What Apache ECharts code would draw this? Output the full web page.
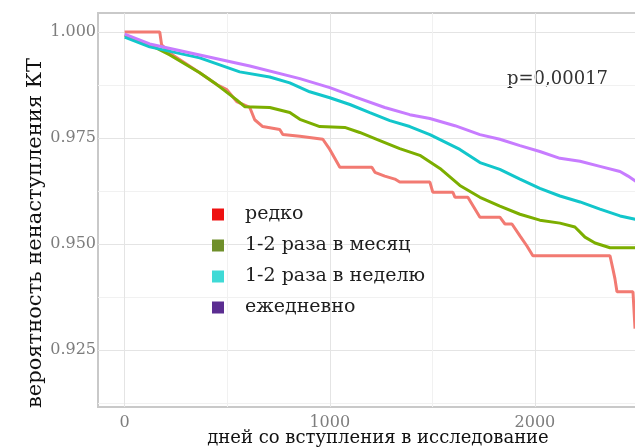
<!DOCTYPE html>
<html>
<head>
<meta charset="utf-8">
<script src="https://cdn.jsdelivr.net/npm/echarts@6/dist/echarts.min.js"></script>
<style>
  html, body { margin: 0; padding: 0; background: #ffffff; overflow: hidden; }
  #chart { width: 700px; height: 448px; }
</style>
</head>
<body>
<div id="chart"></div>
<script>
  // группы частоты
  var groups = ['редко', '1-2 раза в месяц', '1-2 раза в неделю', 'ежедневно'];
  var lineColors = ['#f27a72', '#7cae00', '#12c6cb', '#c77cff'];
  var legendColors = ['#ee1111', '#6f8f2a', '#3fdad6', '#5b2d91'];

  // редко
  var rareDays = [0, 171, 180, 234, 366, 449, 498, 546, 610, 634, 673, 756, 771, 854, 966, 1000, 1049, 1205, 1220, 1268,
    1317, 1341, 1488, 1502, 1600, 1610, 1673, 1732, 1829, 1854, 1888, 1927, 1961, 1990, 2366, 2380, 2390, 2400, 2478, 2488];
  var rareProb = [1.000, 1.000, 0.9970, 0.9946, 0.9904, 0.9876, 0.9864, 0.9836, 0.9822, 0.9793, 0.9777, 0.9770, 0.9758, 0.9754,
    0.9747, 0.9723, 0.9681, 0.9681, 0.9669, 0.9660, 0.9653, 0.9646, 0.9646, 0.9622, 0.9622, 0.9610, 0.9610, 0.9563, 0.9563,
    0.9547, 0.9547, 0.9519, 0.9495, 0.9472, 0.9472, 0.9441, 0.9418, 0.9387, 0.9387, 0.9300];

  // 1-2 раза в месяц
  var monthDays = [0, 122, 220, 366, 449, 546, 585, 707, 805, 854, 951, 1073, 1146, 1244, 1341, 1439, 1537, 1634, 1732, 1829,
    1927, 2024, 2122, 2195, 2244, 2293, 2366, 2500];
  var monthProb = [0.9993, 0.9970, 0.9946, 0.9904, 0.9876, 0.9840, 0.9824, 0.9822, 0.9810, 0.9794, 0.9777, 0.9775, 0.9763,
    0.9744, 0.9725, 0.9709, 0.9678, 0.9638, 0.9610, 0.9589, 0.9570, 0.9556, 0.9549, 0.9540, 0.9516, 0.9502, 0.9491, 0.9491];

  // 1-2 раза в неделю
  var weekDays = [0, 122, 366, 561, 707, 805, 902, 1000, 1098, 1195, 1293, 1390, 1488, 1634, 1732, 1829, 1927, 2024, 2122,
    2220, 2317, 2415, 2500];
  var weekProb = [0.9988, 0.9965, 0.9939, 0.9906, 0.9894, 0.9880, 0.9859, 0.9845, 0.9829, 0.9810, 0.9791, 0.9777, 0.9758,
    0.9723, 0.9692, 0.9676, 0.9653, 0.9631, 0.9613, 0.9599, 0.9582, 0.9566, 0.9557];

  // ежедневно
  var dailyDays = [0, 122, 366, 610, 854, 1000, 1122, 1268, 1390, 1488, 1610, 1732, 1829, 1927, 2024, 2122, 2220, 2317, 2415,
    2454, 2500];
  var dailyProb = [0.9995, 0.9972, 0.9946, 0.9920, 0.9890, 0.9869, 0.9847, 0.9822, 0.9805, 0.9796, 0.9779, 0.9758, 0.9747,
    0.9732, 0.9718, 0.9702, 0.9695, 0.9683, 0.9671, 0.9660, 0.9645];

  var xTicks = [0, 500, 1000, 1500, 2000, 2500];
  var xLabels = [0, 1000, 2000];
  var yTicks = [0.9125, 0.925, 0.9375, 0.95, 0.9625, 0.975, 0.9875, 1.0];
  var yLabels = [0.925, 0.95, 0.975, 1.0];
  var pText = 'p=0,00017';
  var xTitle = 'дней со вступления в исследование';
  var yTitle = 'вероятность ненаступления КТ';

  function pairs(days, prob) {
    return days.map(function (d, i) { return [d, prob[i]]; });
  }
  var allDays = [rareDays, monthDays, weekDays, dailyDays];
  var allProb = [rareProb, monthProb, weekProb, dailyProb];

  var serif = 'DejaVu Serif';
  var chart = echarts.init(document.getElementById('chart'));
  chart.setOption({
    animation: false,
    backgroundColor: '#ffffff',
    grid: {
      left: 98, top: 13, bottom: 41, width: 560,
      show: true, borderColor: '#c9c9c9', borderWidth: 2
    },
    legend: {
      orient: 'vertical',
      left: 207,
      top: 200,
      itemWidth: 44,
      itemHeight: 12,
      itemGap: 12,
      icon: 'path://M0,0L10,0L10,10L0,10Z',
      textStyle: { fontFamily: serif, fontSize: 19, color: '#1e1e1e' },
      data: groups.map(function (g, i) {
        return { name: g, itemStyle: { color: legendColors[i] } };
      })
    },
    graphic: [
      {
        type: 'text', left: 507, top: 70,
        style: { text: pText, fontFamily: serif, fontSize: 18, fill: '#333333' }
      },
      {
        type: 'text', x: 378, y: 438,
        style: { text: xTitle, fontFamily: serif, fontSize: 18, fill: '#111111', align: 'center', verticalAlign: 'middle' }
      },
      {
        type: 'text', x: 36, y: 233, rotation: Math.PI / 2,
        style: { text: yTitle, fontFamily: serif, fontSize: 21, fill: '#111111', align: 'center', verticalAlign: 'middle' }
      }
    ],
    xAxis: {
      type: 'value',
      min: -130,
      max: 2600,
      axisLine: { show: false },
      axisTick: { show: false, customValues: xTicks },
      axisLabel: {
        customValues: xLabels, margin: 8,
        fontFamily: serif, fontSize: 16, color: '#7d7d7d',
        formatter: function (v) { return String(v); }
      },
      splitLine: { show: true, lineStyle: { color: ['#e4e4e4', '#f1f1f1'], width: 1 } }
    },
    yAxis: {
      type: 'value',
      min: 0.9115,
      max: 1.0045,
      axisLine: { show: false },
      axisTick: { show: false, customValues: yTicks },
      axisLabel: {
        customValues: yLabels, margin: 2,
        fontFamily: serif, fontSize: 16, color: '#7d7d7d',
        formatter: function (v) { return v.toFixed(3); }
      },
      splitLine: { show: true, lineStyle: { color: ['#f1f1f1', '#e4e4e4'], width: 1 } }
    },
    series: groups.map(function (g, i) {
      return {
        name: g,
        type: 'line',
        showSymbol: false,
        data: pairs(allDays[i], allProb[i]),
        itemStyle: { color: lineColors[i] },
        lineStyle: { color: lineColors[i], width: 3 }
      };
    })
  });
</script>
</body>
</html>
